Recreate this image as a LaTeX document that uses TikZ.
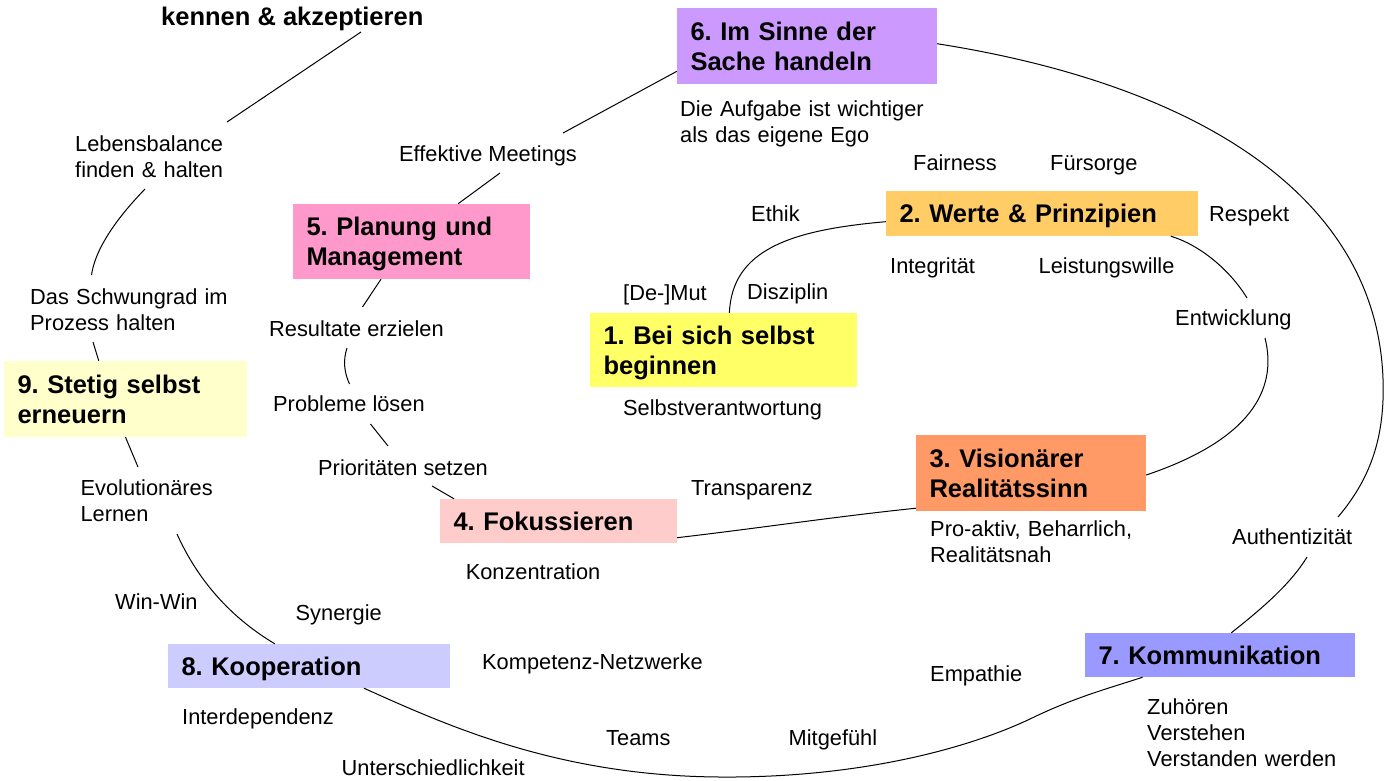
\documentclass[tikz,border=0pt]{standalone}
\usepackage{fontspec}
\setmainfont{Liberation Sans}
\frenchspacing
\definecolor{csix}{HTML}{CC99FF}
\definecolor{ctwo}{HTML}{FFCC66}
\definecolor{cone}{HTML}{FFFF66}
\definecolor{cthree}{HTML}{FF9966}
\definecolor{cfour}{HTML}{FFCCCC}
\definecolor{cfive}{HTML}{FF99CC}
\definecolor{cseven}{HTML}{9999FF}
\definecolor{ceight}{HTML}{CCCCFF}
\definecolor{cnine}{HTML}{FFFFCC}
\tikzset{
  box/.style={rectangle, draw=none, inner xsep=13.5pt, inner ysep=0pt, align=left,
    font=\bfseries\fontsize{25.5}{30}\selectfont, text height=18.3pt, text depth=0pt},
  twoline/.style={text depth=30pt},
  lab/.style={inner sep=0pt, anchor=base west, font=\fontsize{21.8}{26}\selectfont},
  mlab/.style={lab, text width=400pt, align=left},
  conn/.style={draw=black, line width=1pt},
}
\begin{document}
\begin{tikzpicture}[x=1pt,y=-1pt]
\useasboundingbox[fill=white] (0,0) rectangle (1389,780);

% boxes
\node[box, twoline, fill=csix, minimum width=260pt, minimum height=76pt, text width=233pt] (b6) at (807,46) {6. Im Sinne der\\Sache handeln};
\node[box, fill=ctwo, minimum width=312pt, minimum height=45pt, text width=285pt] (b2) at (1042,213.5) {2. Werte \& Prinzipien};
\node[box, twoline, fill=cone, minimum width=267pt, minimum height=74pt, text width=240pt] (b1) at (723.5,350) {1. Bei sich selbst\\beginnen};
\node[box, twoline, fill=cthree, minimum width=230pt, minimum height=76pt, text width=203pt] (b3) at (1031,473) {3. Visionärer\\Realitätssinn};
\node[box, fill=cfour, minimum width=237pt, minimum height=44pt, text width=210pt] (b4) at (558.5,521) {4. Fokussieren};
\node[box, twoline, fill=cfive, minimum width=237pt, minimum height=75pt, text width=210pt] (b5) at (411.5,241.5) {5. Planung und\\Management};
\node[box, fill=cseven, minimum width=270pt, minimum height=44pt, text width=243pt] (b7) at (1220,655) {7. Kommunikation};
\node[box, fill=ceight, minimum width=282pt, minimum height=44pt, text width=255pt] (b8) at (309,666) {8. Kooperation};
\node[box, twoline, fill=cnine, minimum width=243pt, minimum height=76pt, text width=216pt] (b9) at (125.5,399) {9. Stetig selbst\\erneuern};

% title fragment
\node[lab, font=\bfseries\fontsize{25.5}{30}\selectfont] (kenn) at (161,25) {kennen \& akzeptieren};

% labels
\node[mlab] (aufg) at (680,116) {Die Aufgabe ist wichtiger\\als das eigene Ego};
\node[lab] (eff) at (399,161.7) {Effektive Meetings};
\node[mlab] (leb) at (75,151.7) {Lebensbalance\\finden \& halten};
\node[lab] (fair) at (913,170) {Fairness};
\node[lab] (fuer) at (1050,170) {Fürsorge};
\node[lab] (eth) at (751,221.7) {Ethik};
\node[lab] (resp) at (1209,221.7) {Respekt};
\node[lab] (integ) at (890,273.3) {Integrität};
\node[lab] (leist) at (1038.5,273.3) {Leistungswille};
\node[lab] (mut) at (623,300) {[De-]Mut};
\node[lab] (disz) at (747,299.5) {Disziplin};
\node[mlab] (schw) at (30,304) {Das Schwungrad im\\Prozess halten};
\node[lab] (res) at (269,336) {Resultate erzielen};
\node[lab] (entw) at (1175,325) {Entwicklung};
\node[lab] (selbst) at (623,415) {Selbstverantwortung};
\node[lab] (probl) at (273,411.7) {Probleme lösen};
\node[lab] (prio) at (318,475) {Prioritäten setzen};
\node[mlab] (evo) at (80.4,495) {Evolutionäres\\Lernen};
\node[lab] (transp) at (691,495) {Transparenz};
\node[mlab] (pro) at (930,536.7) {Pro-aktiv, Beharrlich,\\Realitätsnah};
\node[lab] (konz) at (465.6,579) {Konzentration};
\node[lab] (auth) at (1232,544) {Authentizität};
\node[lab] (win) at (115,609) {Win-Win};
\node[lab] (syn) at (295.5,620) {Synergie};
\node[lab] (komp) at (482,669) {Kompetenz-Netzwerke};
\node[lab] (emp) at (930,681.7) {Empathie};
\node[lab] (inter) at (182,724) {Interdependenz};
\node[mlab] (zuh) at (1147,714) {Zuhören\\Verstehen\\Verstanden werden};
\node[lab] (teams) at (606,745.7) {Teams};
\node[lab] (mitg) at (788.5,745.7) {Mitgefühl};
\node[lab] (unter) at (341.5,775) {Unterschiedlichkeit};

% free ends of connectors
\coordinate (q1) at (563,133);
\coordinate (q2) at (500,173);
\coordinate (q3) at (362.5,307);
\coordinate (q4) at (347,348);
\coordinate (q5) at (349.5,384);
\coordinate (q6) at (370.5,424);
\coordinate (q7) at (388,446);
\coordinate (q8) at (432,486);
\coordinate (q9) at (1265,338);
\coordinate (q10) at (1247,298);
\coordinate (q11) at (1383,400);
\coordinate (q12) at (1338,517);
\coordinate (q13) at (1307,557);
\coordinate (q14) at (177,534);
\coordinate (q15) at (138,467);
\coordinate (q16) at (93,342);
\coordinate (q17) at (91.5,275);
\coordinate (q18) at (145,189);
\coordinate (q19) at (227,122);
\coordinate (q20) at (361,32);
\coordinate (q21) at (1030,719);
\coordinate (q22) at (720,777);

% connectors
\draw[conn] (b6.191) -- (q1);
\draw[conn] (q2) -- (b5.39);
\draw[conn] (b5.231.5) -- (q3);
\draw[conn] (q4) .. controls (343,360) and (344,372) .. (q5);
\draw[conn] (q6) -- (q7);
\draw[conn] (q8) -- (b4.168.4);
\draw[conn] (b4.352.3) .. controls (760,528) and (840,516) .. (b3.197.4);
\draw[conn] (b3.359) .. controls (1250,440) and (1278,390) .. (q9);
\draw[conn] (b2.350.5) .. controls (1200,245) and (1230,270) .. (q10);
\draw[conn] (b1.81.5) .. controls (732,250) and (790,230) .. (b2.183.9);
\draw[conn] (b6.1.8) .. controls (1200,85) and (1390,200) .. (q11) .. controls (1381,450) and (1365,485) .. (q12);
\draw[conn] (q13) .. controls (1290,585) and (1260,610) .. (b7.63.4);
\draw[conn] (b7.196.7) .. controls (1110,688) and (1075,697) .. (q21) .. controls (960,752) and (850,778) .. (q22) .. controls (560,776) and (450,727) .. (b8.338.9);
\draw[conn] (b8.147.5) .. controls (235,620) and (200,585) .. (q14);
\draw[conn] (q15) -- (b9.270);
\draw[conn] (b9.125.9) -- (q16);
\draw[conn] (q17) .. controls (95,250) and (115,220) .. (q18);
\draw[conn] (q19) -- (q20);
\end{tikzpicture}
\end{document}
